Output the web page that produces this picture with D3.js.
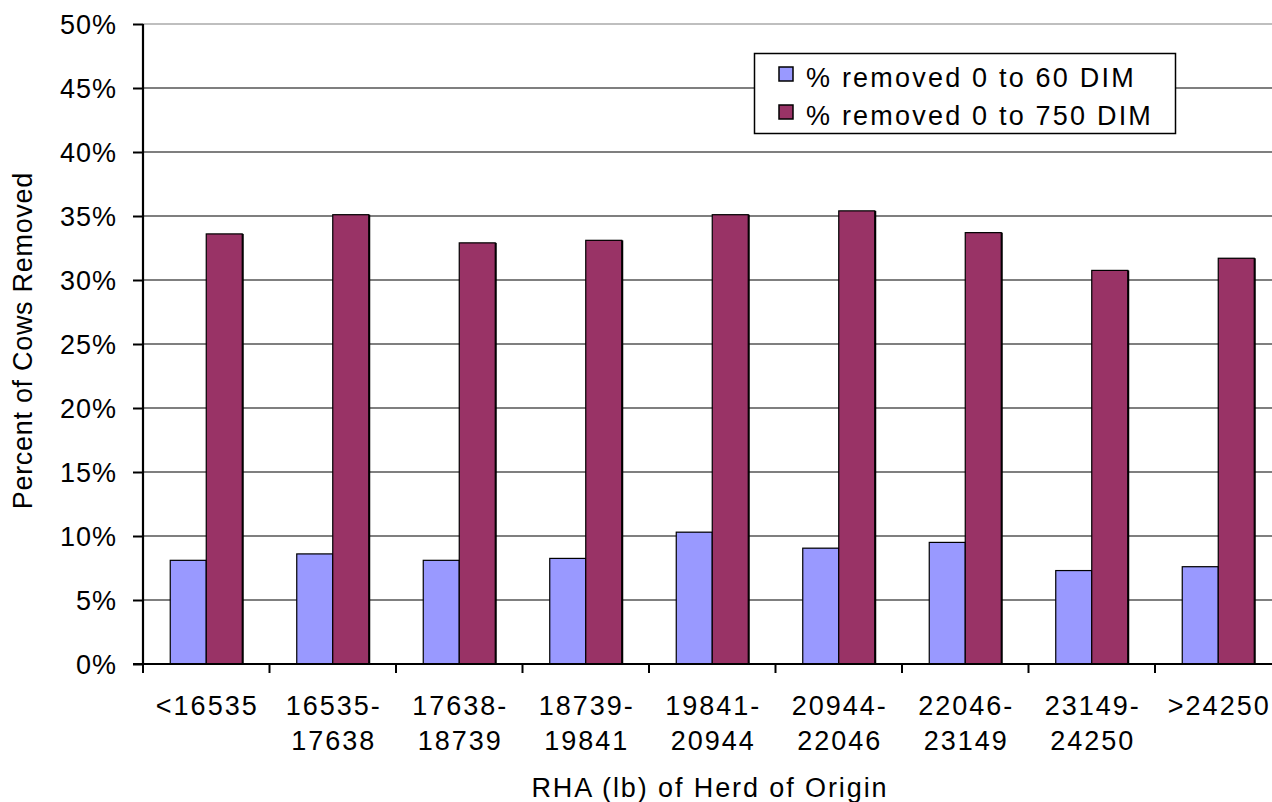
<!DOCTYPE html>
<html>
<head>
<meta charset="utf-8">
<script src="https://cdn.jsdelivr.net/npm/d3@7"></script>
<style>
  html, body { margin: 0; padding: 0; background: #fff; overflow: hidden; }
  text { font-family: "Liberation Sans", Arial, sans-serif; fill: #000; }
</style>
</head>
<body>
<svg id="chart" width="1272" height="802"></svg>
<script>
const categories = [
  ["<16535"], ["16535-", "17638"], ["17638-", "18739"], ["18739-", "19841"],
  ["19841-", "20944"], ["20944-", "22046"], ["22046-", "23149"], ["23149-", "24250"], [">24250"]
];
const seriesNames = ["% removed 0 to 60 DIM", "% removed 0 to 750 DIM"];
const removed60 = [8.1, 8.6, 8.1, 8.25, 10.3, 9.05, 9.5, 7.3, 7.6];
const removed750 = [33.6, 35.1, 32.9, 33.1, 35.1, 35.4, 33.7, 30.75, 31.7];
const seriesColors = ["#9999FF", "#993366"];
const yTicks = [0, 5, 10, 15, 20, 25, 30, 35, 40, 45, 50];

const FS = 27;
const svg = d3.select("#chart");
const pLeft = 143, pRight = 143 + 9 * 126.5, pTop = 24, pBottom = 664;

const x0 = d3.scaleBand().domain(d3.range(categories.length)).range([pLeft, pRight]).padding(0);
const x1 = d3.scaleBand().domain([0, 1]).range([27.25, 99.25]).padding(0);
const y = d3.scaleLinear().domain([0, 50]).range([pBottom, pTop]);

function txt(g, x, yy, s, anchor, ls, rot) {
  anchor = anchor || "start";
  const shift = anchor === "middle" ? ls / 2 : anchor === "end" ? ls : 0;
  return g.append("text")
    .attr("transform", `translate(${x},${yy})` + (rot ? ` rotate(${rot})` : ""))
    .attr("x", shift)
    .attr("font-size", FS)
    .attr("letter-spacing", ls)
    .attr("text-anchor", anchor)
    .text(s);
}

// gridlines
svg.append("g").selectAll("line").data(yTicks.filter(d => d > 0)).join("line")
  .attr("x1", pLeft).attr("x2", pRight)
  .attr("y1", d => y(d)).attr("y2", d => y(d))
  .attr("stroke", d => d === 50 ? "#808080" : "#000")
  .attr("stroke-width", 1.2);

// bars
const data = removed60.map((v, i) => [v, removed750[i]]);
const groups = svg.append("g").selectAll("g").data(data).join("g")
  .attr("transform", (d, i) => `translate(${x0(i)},0)`);
groups.selectAll("rect.shadow").data(d => d).join("rect")
  .attr("class", "shadow")
  .attr("x", (d, j) => x1(j) + 1.5)
  .attr("y", d => y(d))
  .attr("width", x1.bandwidth())
  .attr("height", d => pBottom - y(d))
  .attr("fill", "#000");
groups.selectAll("rect.bar").data(d => d).join("rect")
  .attr("class", "bar")
  .attr("x", (d, j) => x1(j))
  .attr("y", d => y(d))
  .attr("width", x1.bandwidth())
  .attr("height", d => pBottom - y(d))
  .attr("fill", (d, j) => seriesColors[j])
  .attr("stroke", "#000")
  .attr("stroke-width", 1.2);

// axes
const yAxis = svg.append("g").attr("transform", `translate(${pLeft},0)`)
  .call(d3.axisLeft(y).tickValues(yTicks).tickSize(10).tickFormat(""));
yAxis.select(".domain").remove();
yAxis.selectAll("line").attr("stroke", "#000").attr("stroke-width", 2);
svg.append("line").attr("x1", pLeft).attr("x2", pLeft).attr("y1", pTop).attr("y2", pBottom)
  .attr("stroke", "#000").attr("stroke-width", 2.2);

const yl = svg.append("g");
yTicks.forEach(v => txt(yl, 116, y(v) + 9.5, v + "%", "end", 1.0));

const bounds = d3.range(categories.length + 1).map(i => pLeft + i * x0.step());
svg.append("g").selectAll("line").data(bounds).join("line")
  .attr("x1", d => d).attr("x2", d => d).attr("y1", pBottom).attr("y2", pBottom + 9)
  .attr("stroke", "#000").attr("stroke-width", 2);
svg.append("line").attr("x1", pLeft - 10).attr("x2", pRight).attr("y1", pBottom).attr("y2", pBottom)
  .attr("stroke", "#000").attr("stroke-width", 2.2);

const xl = svg.append("g");
categories.forEach((lines, i) => {
  const cx = x0(i) + x0.bandwidth() / 2;
  lines.forEach((s, k) => txt(xl, cx, 715 + k * 35, s, "middle", 2.0));
});

// axis titles
txt(svg, 709, 797, "RHA (lb) of Herd of Origin", "middle", 1.9);
txt(svg, 32, 341, "Percent of Cows Removed", "middle", 0.7, -90);

// legend
const lg = svg.append("g");
lg.append("rect").attr("x", 754.5).attr("y", 53.5).attr("width", 421).attr("height", 80)
  .attr("fill", "#fff").attr("stroke", "#000").attr("stroke-width", 1.5);
seriesNames.forEach((s, i) => {
  lg.append("rect").attr("x", 779).attr("y", 67 + i * 38).attr("width", 14).attr("height", 14)
    .attr("fill", seriesColors[i]).attr("stroke", "#000").attr("stroke-width", 1.5);
  txt(lg, 806, 86.5 + i * 38, s, "start", 2.2);
});
</script>
</body>
</html>
